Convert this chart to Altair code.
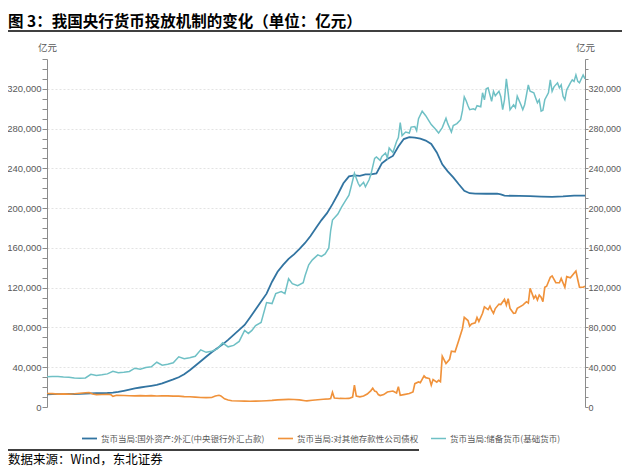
import altair as alt
import pandas as pd

TITLE = "图 3：我国央行货币投放机制的变化（单位：亿元）"
SOURCE = "数据来源：Wind，东北证券"
UNIT = "亿元"
S_FX = "货币当局:国外资产:外汇(中央银行外汇占款)"
S_CL = "货币当局:对其他存款性公司债权"
S_RM = "货币当局:储备货币(基础货币)"
SERIES = [S_FX, S_CL, S_RM]
COLORS = ["#3274a1", "#f0923b", "#6fc0c5"]

# 外汇占款 (亿元)
fx_dates = ["1997-12", "1998-03", "1998-06", "1998-09", "1998-12", "1999-03", "1999-06", "1999-09", "1999-12",
            "2000-03", "2000-06", "2000-09", "2000-12", "2001-03", "2001-06", "2001-09", "2001-12",
            "2002-03", "2002-06", "2002-09", "2002-12", "2003-03", "2003-06", "2003-09", "2003-12",
            "2004-03", "2004-06", "2004-09", "2004-12", "2005-03", "2005-06", "2005-09", "2005-12",
            "2006-03", "2006-06", "2006-09", "2006-12", "2007-03", "2007-06", "2007-09", "2007-12",
            "2008-03", "2008-06", "2008-09", "2008-12", "2009-03", "2009-06", "2009-09", "2009-12",
            "2010-03", "2010-06", "2010-09", "2010-12", "2011-03", "2011-06", "2011-09", "2011-12",
            "2012-03", "2012-06", "2012-09", "2012-12", "2013-03", "2013-06", "2013-09", "2013-12",
            "2014-03", "2014-06", "2014-09", "2014-12", "2015-03", "2015-06", "2015-09", "2015-12",
            "2016-03", "2016-06", "2016-09", "2016-12", "2017-03", "2017-06", "2017-12", "2018-06",
            "2018-08", "2018-10", "2019-06", "2019-12", "2020-06", "2020-12", "2021-06", "2021-12", "2022-06"]
fx_vals = [12800, 12900, 13000, 13000, 13100, 13100, 13200, 13400, 13800,
           13900, 14000, 14100, 14400, 15200, 16300, 17500, 18800,
           19600, 20500, 21300, 22200, 23800, 25800, 27700, 29900,
           33000, 37000, 41500, 46000, 50500, 55000, 59000, 63000,
           67500, 72500, 77500, 82500, 90000, 98000, 106000, 114000,
           126000, 136000, 143000, 149000, 153500, 159000, 165000, 172000,
           180000, 188000, 195000, 204000, 214000, 225000, 232000, 233000,
           232500, 234000, 234000, 235000, 245000, 249500, 252500, 262000,
           269500, 271500, 271000, 270000, 268000, 264500, 256000, 244000,
           237000, 231000, 224000, 217500, 215000, 214600, 214500, 214500,
           213800, 212500, 212300, 212000, 211600, 211300, 211800, 212600, 212600]

# 对其他存款性公司债权 (亿元)
cl_dates = ["1997-12", "1998-03", "1998-06", "1998-09", "1998-12", "1999-03", "1999-06", "1999-09", "1999-11",
            "2000-01", "2000-03", "2000-06", "2000-09", "2000-11", "2000-12", "2001-02", "2001-06", "2001-09",
            "2001-12", "2002-03", "2002-06", "2002-09", "2002-12", "2003-03", "2003-06", "2003-09", "2003-12",
            "2004-03", "2004-06", "2004-09", "2004-12", "2005-03", "2005-06", "2005-08", "2005-10", "2005-11",
            "2006-01", "2006-03", "2006-05", "2006-09", "2006-12", "2007-03", "2007-06", "2007-09", "2007-12",
            "2008-03", "2008-06", "2008-09", "2008-12", "2009-03", "2009-06", "2009-09", "2009-10", "2010-01",
            "2010-04", "2010-07", "2010-10", "2010-11", "2010-12", "2011-01", "2011-04", "2011-07", "2011-09",
            "2011-11", "2011-12", "2012-01", "2012-03", "2012-05", "2012-07", "2012-09", "2012-10", "2012-11",
            "2012-12", "2013-01", "2013-02", "2013-04", "2013-06", "2013-09", "2013-11", "2013-12", "2014-01",
            "2014-03", "2014-06", "2014-08", "2014-09", "2014-11", "2014-12", "2015-02", "2015-03", "2015-05",
            "2015-06", "2015-07", "2015-09", "2015-10", "2015-11", "2015-12", "2016-01", "2016-02", "2016-04",
            "2016-05", "2016-07", "2016-09", "2016-11", "2016-12", "2017-02", "2017-03", "2017-04", "2017-06",
            "2017-07", "2017-08", "2017-10", "2017-11", "2018-01", "2018-02", "2018-03", "2018-04", "2018-05",
            "2018-07", "2018-08", "2018-10", "2018-11", "2018-12", "2019-01", "2019-03", "2019-04", "2019-05",
            "2019-08", "2019-10", "2019-11", "2019-12", "2020-02", "2020-03", "2020-04", "2020-05", "2020-06",
            "2020-07", "2020-08", "2020-09", "2020-11", "2020-12", "2021-02", "2021-04", "2021-05", "2021-07",
            "2021-08", "2021-10", "2021-12", "2022-01", "2022-02", "2022-03", "2022-05", "2022-06"]
cl_vals = [13600, 13400, 13000, 13200, 13000, 13300, 13800, 14300, 14600,
           13000, 12400, 12600, 12800, 12300, 10800, 11800, 11600, 11300,
           11200, 11400, 11200, 11400, 11100, 11300, 11200, 11000, 10900,
           10500, 10300, 10000, 9600, 9400, 9600, 11000, 11800, 11200,
           8200, 7000, 6300, 6000, 5900, 5800, 5900, 6000, 6300,
           6600, 7200, 7400, 7700, 7500, 7200, 6300, 6100, 6800,
           7300, 7800, 8200, 8500, 14800, 9000, 8600, 8500, 8600,
           10000, 22000, 11000, 10200, 11000, 13000, 16500, 19000, 16000,
           15500, 12500, 11500, 12500, 15100, 16100, 14100, 20500, 11800,
           12500, 13500, 15100, 23500, 25200, 24500, 31300, 29500, 28600,
           21900, 27600, 25000, 26900, 25500, 51100, 47500, 43700, 48000,
           56200, 55500, 67200, 79000, 90100, 87000, 81400, 83500, 84700,
           90100, 86000, 94200, 100800, 98000, 101500, 97500, 94200, 99000,
           103500, 103000, 108300, 102500, 108900, 99200, 94200, 94500, 99200,
           102500, 105900, 104500, 119400, 109300, 112000, 107600, 112600, 110500,
           105900, 120400, 121500, 130500, 131800, 125000, 125000, 129400, 120400,
           131100, 130000, 134500, 136800, 128000, 120400, 120400, 121500]

# 储备货币 (亿元)
rm_dates = ["1997-12", "1998-03", "1998-06", "1998-09", "1998-12", "1999-03", "1999-06", "1999-09", "1999-12",
            "2000-03", "2000-06", "2000-09", "2000-12", "2001-03", "2001-06", "2001-09", "2001-12",
            "2002-03", "2002-06", "2002-09", "2002-12", "2003-03", "2003-06", "2003-09", "2003-12",
            "2004-03", "2004-06", "2004-09", "2004-12", "2005-03", "2005-06", "2005-09", "2005-12",
            "2006-03", "2006-06", "2006-09", "2006-12", "2007-02", "2007-04", "2007-06", "2007-09", "2007-12",
            "2008-03", "2008-05", "2008-08", "2008-10", "2008-12", "2009-02", "2009-05", "2009-08", "2009-09",
            "2009-11", "2010-01", "2010-04", "2010-06", "2010-08", "2010-10", "2010-11", "2010-12", "2011-03",
            "2011-05", "2011-07", "2011-09", "2011-10", "2011-12", "2012-02", "2012-03", "2012-05", "2012-06",
            "2012-08", "2012-09", "2012-11", "2012-12", "2013-02", "2013-03", "2013-05", "2013-06", "2013-07",
            "2013-09", "2013-11", "2013-12", "2014-01", "2014-02", "2014-04", "2014-06", "2014-07", "2014-09",
            "2014-10", "2014-11", "2015-01", "2015-03", "2015-05", "2015-06", "2015-08", "2015-10", "2015-12",
            "2016-02", "2016-03", "2016-05", "2016-06", "2016-08", "2016-10", "2016-11", "2016-12", "2017-01",
            "2017-02", "2017-03", "2017-05", "2017-06", "2017-07", "2017-09", "2017-10", "2017-11", "2017-12",
            "2018-01", "2018-03", "2018-04", "2018-05", "2018-07", "2018-08", "2018-09", "2018-10", "2018-11",
            "2018-12", "2019-01", "2019-03", "2019-04", "2019-05", "2019-07", "2019-08", "2019-09", "2019-11",
            "2019-12", "2020-02", "2020-03", "2020-04", "2020-05", "2020-06", "2020-07", "2020-08", "2020-10",
            "2020-11", "2020-12", "2021-01", "2021-03", "2021-04", "2021-05", "2021-06", "2021-07", "2021-08",
            "2021-10", "2021-11", "2021-12", "2022-01", "2022-02", "2022-03", "2022-05", "2022-06"]
rm_vals = [30500, 30600, 30600, 30200, 30000, 29200, 28800, 29200, 32800,
           31800, 32400, 33300, 36000, 34500, 35000, 35800, 39000,
           38000, 39800, 40500, 45000, 42000, 43000, 44500, 50500,
           48500, 49500, 51000, 57500, 55000, 56000, 58500, 64500,
           60500, 62000, 66000, 77000, 74000, 77000, 82000, 85000, 105000,
           104000, 114000, 116000, 114000, 129000, 124000, 122000, 125000, 132000,
           143000, 148000, 153000, 151500, 154000, 160000, 177500, 188000, 194000,
           201000, 207000, 213000, 220000, 235000, 225000, 222000, 226000, 221500,
           228500, 234000, 250000, 251500, 248000, 252000, 255500, 250500, 260500,
           256000, 267000, 271000, 286000, 273000, 276500, 275500, 281500, 282000,
           278000, 290000, 297500, 293000, 287000, 284000, 280000, 275500, 281000,
           290500, 285000, 276500, 283000, 285000, 289000, 298000, 312000, 308000,
           303000, 299000, 300000, 299000, 303000, 302000, 316000, 309000, 320000,
           321000, 307500, 317500, 313000, 317500, 312000, 299000, 309000, 330000,
           316000, 299000, 304000, 301000, 312500, 304000, 299000, 304000, 324000,
           317500, 316000, 311000, 306000, 309000, 297500, 298500, 309000, 316000,
           329000, 317500, 322000, 326000, 321000, 324000, 312500, 309000, 319000,
           326000, 329000, 327500, 334000, 327500, 326000, 334000, 330000]

rows = []
for name, ds, vs in [(S_FX, fx_dates, fx_vals), (S_CL, cl_dates, cl_vals), (S_RM, rm_dates, rm_vals)]:
    for d, v in zip(ds, vs):
        rows.append({"series": name, "date": d + "-01", "value": v})
df = pd.DataFrame(rows)

y_ticks = list(range(0, 350001, 10000))
x_ticks = [alt.DateTime(year=y, month=12, date=1, utc=True) for y in range(1997, 2022)]
x_ticks.append(alt.DateTime(year=2022, month=6, date=1, utc=True))
x_label_expr = ("utcmonth(datum.value) == 5 ? '22-Q2' : "
                "((utcyear(datum.value) == 1997 || utcyear(datum.value) % 2 == 0) ? "
                "utcFormat(datum.value, '%y') + '-Q4' : '')")
y_label_expr = "datum.value % 40000 == 0 ? format(datum.value, ',') : ''"

GRAY = "#595959"
AXC = "#8c8c8c"
NUMFONT = "Liberation Sans"
CJK = "Noto Sans CJK SC"

x_enc = alt.X(
    "date:T",
    scale=alt.Scale(domain=[alt.DateTime(year=1997, month=12, date=1, utc=True),
                            alt.DateTime(year=2022, month=6, date=1, utc=True)], nice=False),
    axis=alt.Axis(values=x_ticks, labelExpr=x_label_expr, title=None, grid=False,
                  labelFont=NUMFONT, labelFontSize=9.5, labelColor=GRAY, labelFlush=False,
                  labelOverlap=False, tickSize=5, tickColor=AXC, domainColor=AXC, labelPadding=2),
)
y_scale = alt.Scale(domain=[0, 350000], nice=False)

left_axis = alt.Axis(
    values=y_ticks, labelExpr=y_label_expr, labelOverlap=False,
    title=UNIT, titleAngle=0, titleX=0, titleY=-12, titleAlign="center", titleBaseline="middle",
    titleFont=CJK, titleFontSize=9.5, titleFontWeight="normal", titleColor=GRAY,
    labelFont=NUMFONT, labelFontSize=9.5, labelColor=GRAY, labelPadding=1,
    tickSize=5, tickColor=AXC, domainColor=AXC,
    grid=True, gridColor="#e3e3e3", gridDash=[2, 2],
    gridOpacity={"condition": {"test": "datum.value % 40000 == 0 && datum.value > 0", "value": 1}, "value": 0},
)
right_axis = alt.Axis(
    orient="right", values=y_ticks, labelExpr=y_label_expr, labelOverlap=False,
    title=UNIT, titleAngle=0, titleX=0, titleY=-12, titleAlign="center", titleBaseline="middle",
    titleFont=CJK, titleFontSize=9.5, titleFontWeight="normal", titleColor=GRAY,
    labelFont=NUMFONT, labelFontSize=9, labelColor=GRAY, labelPadding=0,
    tickSize=3, tickColor=AXC, domainColor=AXC, grid=False,
)

lines = alt.Chart(df).mark_line(interpolate="linear").encode(
    x=x_enc,
    y=alt.Y("value:Q", scale=y_scale, axis=left_axis),
    color=alt.Color("series:N", sort=SERIES,
                    scale=alt.Scale(domain=SERIES, range=COLORS),
                    legend=alt.Legend(title=None, orient="none", legendX=34, legendY=371,
                                      direction="horizontal", columns=3, symbolType="stroke",
                                      symbolSize=225, symbolStrokeWidth=2, labelFont=CJK,
                                      labelFontSize=8.5, labelColor=GRAY, columnPadding=9,
                                      labelOffset=3, labelLimit=400)),
    strokeWidth=alt.StrokeWidth("series:N", scale=alt.Scale(domain=SERIES, range=[1.8, 1.5, 1.4]), legend=None),
)

right = alt.Chart(df).mark_line(opacity=0).encode(
    x=alt.X("date:T", axis=None),
    y=alt.Y("value:Q", scale=y_scale, axis=right_axis),
    detail="series:N",
)

one = pd.DataFrame({"t": [0]})
title_txt = alt.Chart(pd.DataFrame({"t": [TITLE]})).mark_text(
    align="left", baseline="middle", font=CJK, fontSize=15.5, fontWeight="bold", color="black"
).encode(text="t:N", x=alt.value(-39), y=alt.value(-37.5))
title_rule = alt.Chart(one).mark_rule(color="black", strokeWidth=1.5).encode(
    x=alt.value(-39), x2=alt.value(575), y=alt.value(-28))
src_rule = alt.Chart(one).mark_rule(color="black", strokeWidth=1.5).encode(
    x=alt.value(-39), x2=alt.value(372), y=alt.value(391))
src_txt = alt.Chart(pd.DataFrame({"t": [SOURCE]})).mark_text(
    align="left", baseline="middle", font=CJK, fontSize=12.5, color="black"
).encode(text="t:N", x=alt.value(-39), y=alt.value(400.5))

chart = alt.layer(lines, right, title_txt, title_rule, src_rule, src_txt).resolve_scale(
    y="shared"
).resolve_axis(y="independent").properties(
    width=538, height=348,
    padding={"left": 39, "top": 51, "right": 37, "bottom": 59},
    autosize=alt.AutoSizeParams(type="none"),
).configure_view(stroke=None)

chart.save("out.html", embed_options={"renderer": "svg", "actions": False})
